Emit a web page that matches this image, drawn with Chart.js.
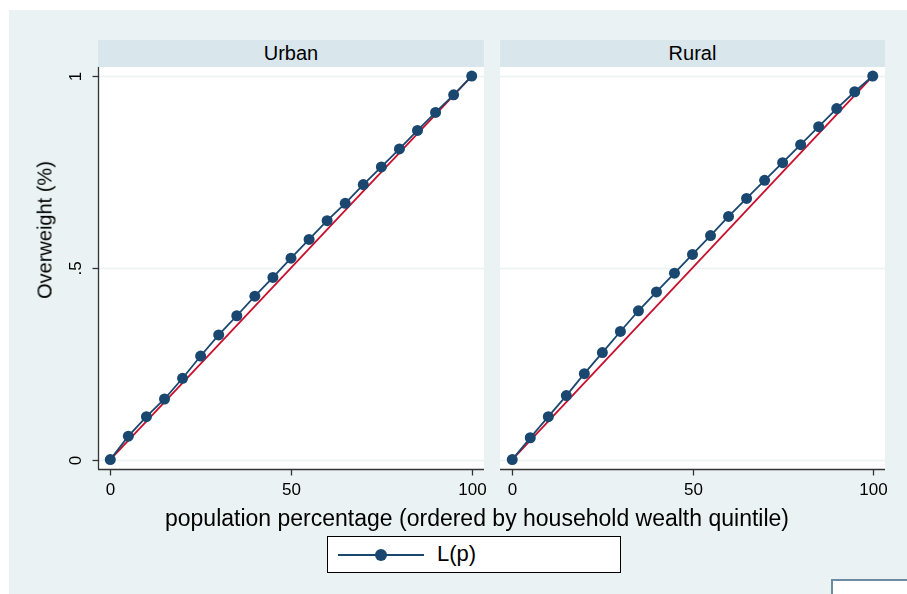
<!DOCTYPE html>
<html>
<head>
<meta charset="utf-8">
<script src="https://cdn.jsdelivr.net/npm/chart.js@4.4.1/dist/chart.umd.min.js"></script>
<style>
  html, body { margin: 0; padding: 0; background: #ffffff; }
  #wrap { position: relative; width: 907px; height: 594px; overflow: hidden;
          font-family: "Liberation Sans", Arial, sans-serif; color: #000; }
  #bg { position: absolute; left: 9px; top: 10px; right: 0; bottom: 0; background: #eaf2f3; }
  .strip { position: absolute; top: 40px; height: 27px; background: #d9e6eb;
           font-size: 20px; line-height: 27px; text-align: center; }
  canvas { position: absolute; left: 0; top: 0; }
  #ytitle { position: absolute; left: 45px; top: 230px; transform: translate(-50%, -50%) rotate(-90deg);
            font-size: 20px; white-space: nowrap; }
  #xtitle { position: absolute; left: 477px; top: 518px; transform: translate(-50%, -50%);
            font-size: 23px; white-space: nowrap; }
  #legend { position: absolute; left: 327px; top: 536px; width: 292px; height: 35px;
            background: #fff; border: 1px solid #000; }
  #legline { position: absolute; left: 10px; top: 17px; width: 86px; height: 2px; background: #1a476f; }
  #legdot { position: absolute; left: 47px; top: 12px; width: 12px; height: 12px; border-radius: 50%; background: #1a476f; }
  #legtext { position: absolute; left: 109px; top: 5px; font-size: 22px; line-height: 24px; }
  #corner { position: absolute; left: 831px; top: 579px; width: 100px; height: 40px;
            background: #fff; border: 2px solid #6d8aa5; }
</style>
</head>
<body>
<div id="wrap">
  <div id="bg"></div>
  <div class="strip" style="left:98px;width:386px;">Urban</div>
  <div class="strip" style="left:500px;width:385px;">Rural</div>
  <canvas id="cUrban" width="907" height="594"></canvas>
  <canvas id="cRural" width="907" height="594"></canvas>
  <div id="ytitle">Overweight (%)</div>
  <div id="xtitle">population percentage (ordered by household wealth quintile)</div>
  <div id="legend"><div id="legline"></div><div id="legdot"></div><div id="legtext">L(p)</div></div>
  <div id="corner"></div>
</div>
<script>
// ---- data ----
const popPct = [0, 5, 10, 15, 20, 25, 30, 35, 40, 45, 50, 55, 60, 65, 70, 75, 80, 85, 90, 95, 100];
const urbanLp = [0, 0.061, 0.112, 0.158, 0.212, 0.270, 0.325, 0.375, 0.426, 0.475, 0.525,
                 0.574, 0.623, 0.668, 0.717, 0.763, 0.810, 0.858, 0.905, 0.951, 1.0];
const ruralLp = [0, 0.057, 0.112, 0.167, 0.224, 0.279, 0.334, 0.388, 0.437, 0.486, 0.535,
                 0.584, 0.634, 0.681, 0.728, 0.774, 0.821, 0.868, 0.915, 0.959, 1.0];
const equalityX = [0, 100];
const equalityY = [0, 1];
const xTickValues = [0, 50, 100];
const xTickLabels = ['0', '50', '100'];
const yTickValues = [0, 0.5, 1];
const yTickLabels = ['0', '.5', '1'];

const NAVY = '#1a476f';
const RED = '#c8102e';
const FONT = '"Liberation Sans", Arial, sans-serif';

function pts(xs, ys) { return xs.map((x, i) => ({ x: x, y: ys[i] })); }

const stataAxes = {
  id: 'stataAxes',
  beforeDatasetsDraw(chart, args, opts) {
    const { ctx, chartArea: a, scales: { x, y } } = chart;
    ctx.save();
    ctx.fillStyle = '#ffffff';
    ctx.fillRect(a.left, a.top, a.right - a.left, a.bottom - a.top);
    ctx.strokeStyle = '#eaf2f3';
    ctx.lineWidth = 1.5;
    yTickValues.forEach(v => {
      const py = Math.round(y.getPixelForValue(v)) + 0.5;
      ctx.beginPath(); ctx.moveTo(a.left, py); ctx.lineTo(a.right, py); ctx.stroke();
    });
    ctx.restore();
  },
  afterDatasetsDraw(chart, args, opts) {
    const { ctx, chartArea: a, scales: { x, y } } = chart;
    ctx.save();
    ctx.strokeStyle = '#333333';
    ctx.lineWidth = 1.3;
    const by = a.bottom + 0.5;
    ctx.beginPath(); ctx.moveTo(a.left, by); ctx.lineTo(a.right, by); ctx.stroke();
    ctx.fillStyle = '#000';
    ctx.font = '17px ' + FONT;
    ctx.textAlign = 'center';
    ctx.textBaseline = 'middle';
    xTickValues.forEach((v, i) => {
      const px = Math.round(x.getPixelForValue(v)) + 0.5;
      ctx.beginPath(); ctx.moveTo(px, by); ctx.lineTo(px, by + 6); ctx.stroke();
      ctx.fillText(xTickLabels[i], px, by + 21);
    });
    if (opts.yAxis) {
      const lx = a.left + 0.5;
      ctx.beginPath(); ctx.moveTo(lx, a.top); ctx.lineTo(lx, a.bottom); ctx.stroke();
      yTickValues.forEach((v, i) => {
        const py = Math.round(y.getPixelForValue(v)) + 0.5;
        ctx.beginPath(); ctx.moveTo(lx, py); ctx.lineTo(lx - 6, py); ctx.stroke();
        ctx.save();
        ctx.translate(lx - 22, py);
        ctx.rotate(-Math.PI / 2);
        ctx.fillText(yTickLabels[i], 0, 0);
        ctx.restore();
      });
    }
    ctx.restore();
  }
};

function makeChart(id, values, padLeft, padRight, yAxis) {
  return new Chart(document.getElementById(id), {
    type: 'scatter',
    data: {
      datasets: [
        { label: 'equality', data: pts(equalityX, equalityY), showLine: true,
          borderColor: RED, borderWidth: 1.8, pointRadius: 0, order: 2 },
        { label: 'L(p)', data: pts(popPct, values), showLine: true,
          borderColor: NAVY, borderWidth: 1.8, pointRadius: 5.5,
          pointBackgroundColor: NAVY, pointBorderColor: NAVY, pointBorderWidth: 0, order: 1 }
      ]
    },
    options: {
      responsive: false,
      animation: false,
      devicePixelRatio: 1,
      layout: { padding: { left: padLeft, right: padRight, top: 67, bottom: 125 } },
      plugins: { legend: { display: false }, tooltip: { enabled: false }, stataAxes: { yAxis: yAxis } },
      scales: {
        x: { type: 'linear', min: -3.4, max: 103.4, display: false },
        y: { type: 'linear', min: -0.0245, max: 1.0235, display: false }
      }
    },
    plugins: [stataAxes]
  });
}

makeChart('cUrban', urbanLp, 98, 907 - 484, true);
makeChart('cRural', ruralLp, 500, 907 - 885, false);
</script>
</body>
</html>
